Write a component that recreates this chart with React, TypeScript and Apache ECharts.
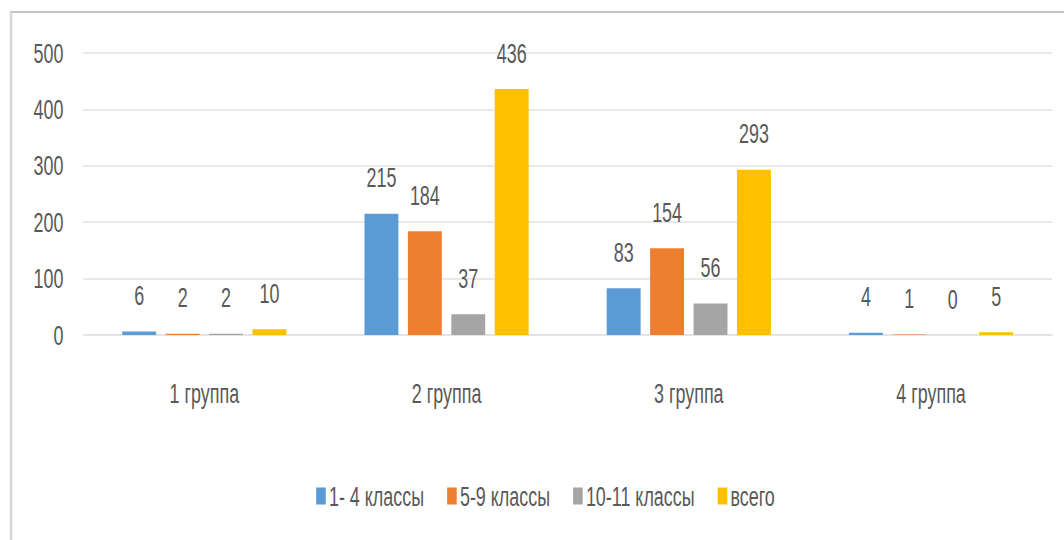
import React, { useEffect, useRef } from "react";
import * as echarts from "echarts";

const categories = ["1 группа", "2 группа", "3 группа", "4 группа"];
const seriesNames = ["1- 4 классы", "5-9 классы", "10-11 классы", "всего"];
const grades1to4 = [6, 215, 83, 4];
const grades5to9 = [2, 184, 154, 1];
const grades10to11 = [2, 37, 56, 0];
const totals = [10, 436, 293, 5];
const seriesColors = ["#5B9BD5", "#ED7D31", "#A5A5A5", "#FFC000"];
const yMin = 0;
const yMax = 500;
const yInterval = 100;

// The reference picture is horizontally compressed; reproduce it with a CSS scaleX.
const SX = 0.64;
const W = 1064;
const H = 540;
const CW = W / SX;
const FONT = "'Liberation Sans', Arial, 'DejaVu Sans', sans-serif";
const TEXT = "#595959";

export default function App() {
  const ref = useRef<HTMLDivElement>(null);

  useEffect(() => {
    if (!ref.current) return;
    const chart = echarts.init(ref.current, null, { renderer: "svg" });
    const seriesData = [grades1to4, grades5to9, grades10to11, totals];
    chart.setOption({
      animation: false,
      backgroundColor: "#ffffff",
      textStyle: { fontFamily: FONT, color: TEXT },
      grid: { left: 130, right: 19, top: 53, bottom: 205, containLabel: false },
      legend: {
        data: seriesNames,
        left: 489,
        top: 477,
        itemWidth: 15,
        itemHeight: 17,
        itemGap: 36,
        icon: "rect",
        textStyle: { fontFamily: FONT, fontSize: 28, color: TEXT },
      },
      xAxis: {
        type: "category",
        data: categories,
        axisLine: { show: true, lineStyle: { color: "#e2e2e2", width: 1.5 } },
        axisTick: { show: false },
        axisLabel: { fontFamily: FONT, fontSize: 28, color: TEXT, margin: 44 },
      },
      yAxis: {
        type: "value",
        min: yMin,
        max: yMax,
        interval: yInterval,
        axisLine: { show: false },
        axisTick: { show: false },
        splitLine: { lineStyle: { color: "#e2e2e2", width: 1.5 } },
        axisLabel: { fontFamily: FONT, fontSize: 28, color: TEXT, margin: 31 },
      },
      series: seriesNames.map((name, i) => ({
        name,
        type: "bar",
        data: seriesData[i],
        barWidth: 53,
        barGap: "28%",
        itemStyle: { color: seriesColors[i] },
        label: {
          show: true,
          position: "top",
          distance: 22,
          fontFamily: FONT,
          fontSize: 28,
          color: TEXT,
        },
      })),
      graphic: [
        {
          type: "line",
          shape: { x1: 10 / SX, y1: 12, x2: CW, y2: 12 },
          style: { stroke: "#c4c4c4", lineWidth: 2 },
          silent: true,
        },
        {
          type: "line",
          shape: { x1: 11 / SX, y1: 12, x2: 11 / SX, y2: H },
          style: { stroke: "#d6d6d6", lineWidth: 4 },
          silent: true,
        },
      ],
    });
    return () => chart.dispose();
  }, []);

  return (
    <div
      style={{
        position: "absolute",
        left: 0,
        top: 0,
        width: W,
        height: H,
        overflow: "hidden",
        background: "#ffffff",
      }}
    >
      <div
        ref={ref}
        style={{
          width: CW,
          height: H,
          transform: `scaleX(${SX})`,
          transformOrigin: "0 0",
        }}
      />
    </div>
  );
}
